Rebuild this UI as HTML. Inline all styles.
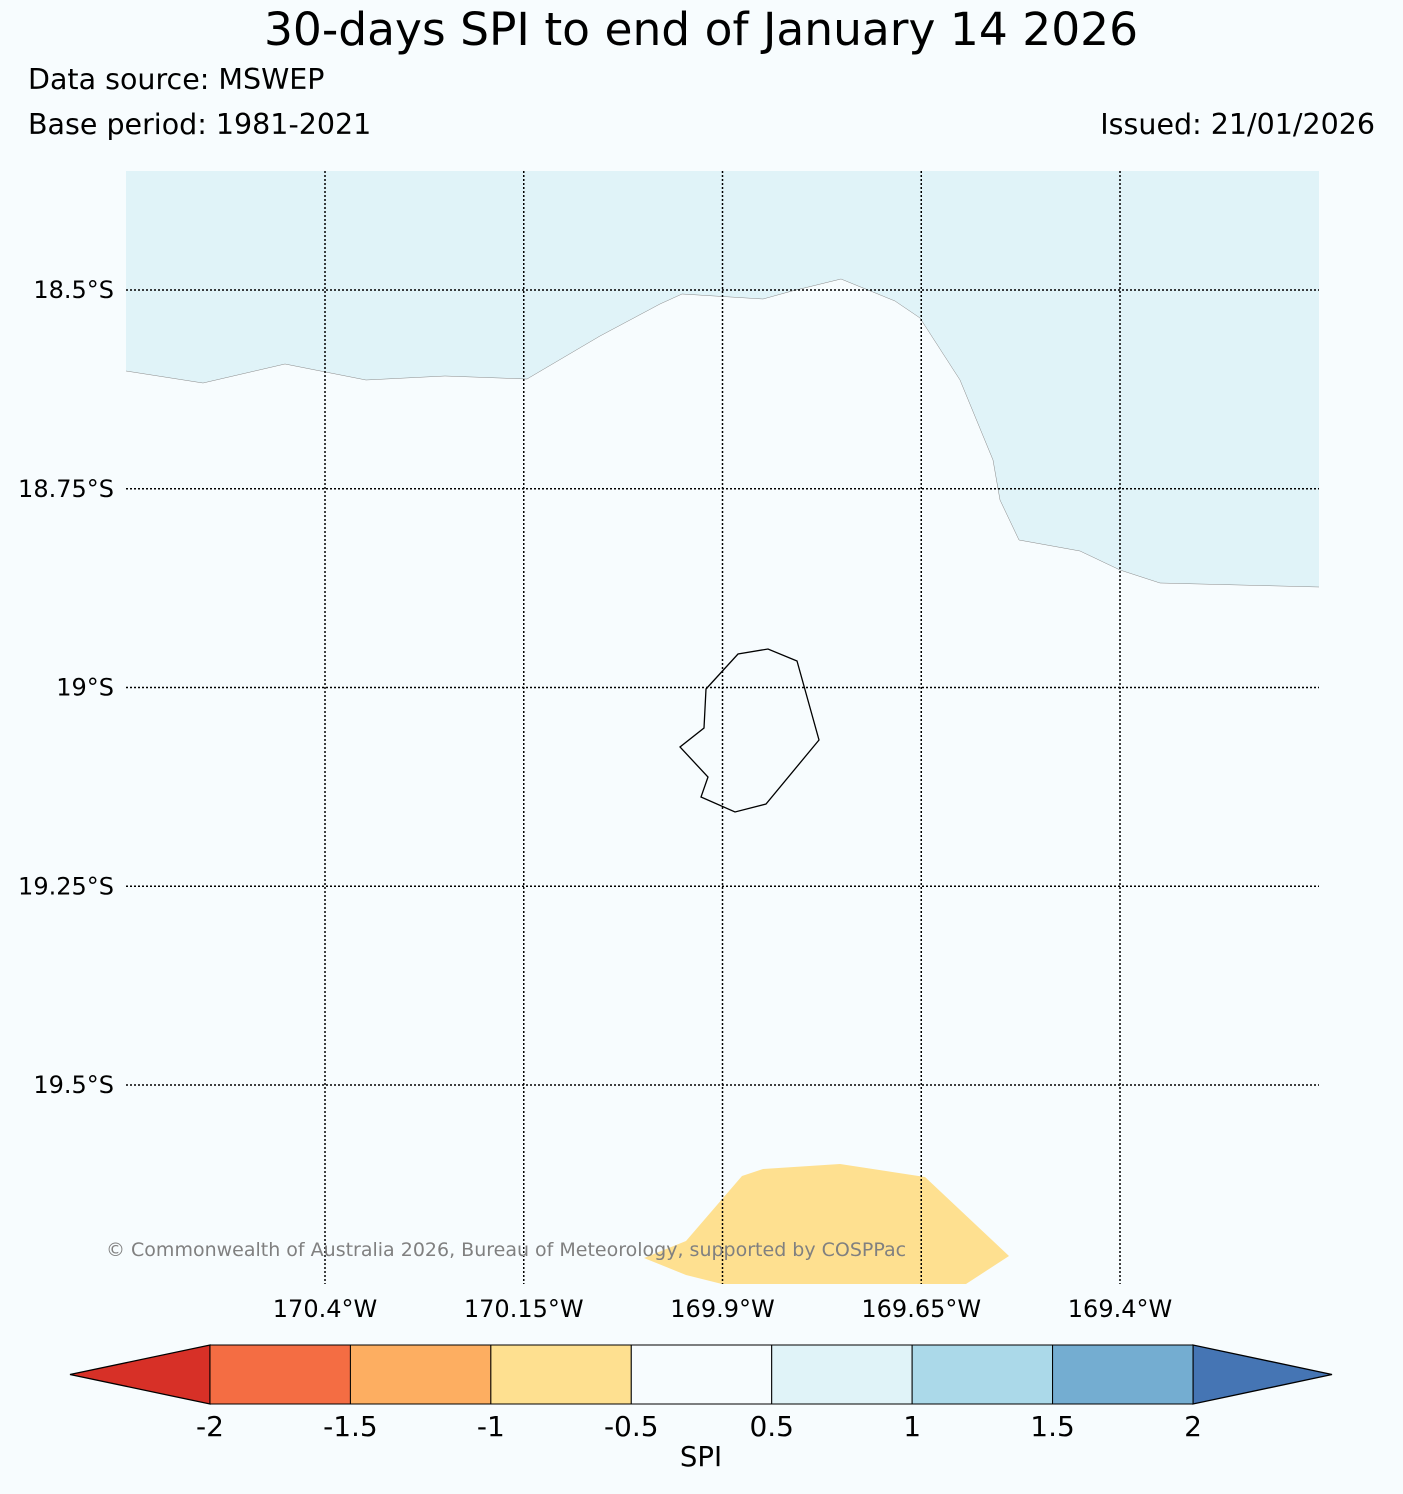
<!DOCTYPE html>
<html><head><meta charset="utf-8"><style>
body{margin:0;background:#f7fcfe;}
svg{display:block;font-family:"DejaVu Sans","Liberation Sans",sans-serif;}
</style></head><body>
<svg width="1403" height="1494" viewBox="0 0 1403 1494">
<rect width="1403" height="1494" fill="#f7fcfe"/>
<text x="701" y="45" font-size="45.5" text-anchor="middle">30-days SPI to end of January 14 2026</text>
<text x="28" y="89" font-size="28.5">Data source: MSWEP</text>
<text x="28" y="134" font-size="28.5">Base period: 1981-2021</text>
<text x="1375" y="134" font-size="28.5" text-anchor="end">Issued: 21/01/2026</text>
<g>
<path d="M126,171 H1319 V587 L1160,583 L1120,570 L1080,551 L1019,540 L1000,500 L993,460 L960,380 L920,318 L895,301 L841,279 L792,291 L763,299 L682,294 L660,304 L600,336 L527,379 L445,376 L366,380 L285,364 L203,383 L126,371 Z" fill="#e0f3f8"/>
<path d="M1319,587 L1160,583 L1120,570 L1080,551 L1019,540 L1000,500 L993,460 L960,380 L920,318 L895,301 L841,279 L792,291 L763,299 L682,294 L660,304 L600,336 L527,379 L445,376 L366,380 L285,364 L203,383 L126,371" fill="none" stroke="#888" stroke-width="0.5"/>
<path d="M644,1258 L686,1241 L742,1176 L763,1169 L840,1164 L925,1177 L1009,1256 L966,1284 H722 L686,1275 Z" fill="#fee090"/>
<path d="M706,689 L738,654 L768,649 L797,661 L819,740 L766,804 L735,812 L701,797 L708,777 L680,747 L704,728 Z" fill="none" stroke="#000" stroke-width="1.3"/>
<g id="grid" stroke="#000" stroke-width="1.5" stroke-dasharray="2,2"></g>
<g id="ylab" font-size="24" text-anchor="end"></g>
<g id="xlab" font-size="24" text-anchor="middle"></g>
<text x="106" y="1256" font-size="19" fill="#808080">© Commonwealth of Australia 2026, Bureau of Meteorology, supported by COSPPac</text>
</g>
<g id="cbar"></g>
<text x="701" y="1466" font-size="27.5" text-anchor="middle">SPI</text>
</svg>
<script>
const latTicks=[18.5,18.75,19,19.25,19.5];
const latLabels=["18.5°S","18.75°S","19°S","19.25°S","19.5°S"];
const lonTicks=[170.4,170.15,169.9,169.65,169.4];
const lonLabels=["170.4°W","170.15°W","169.9°W","169.65°W","169.4°W"];
const cbColors=["#f46d43","#fdae61","#fee090","#f7fcfe","#e0f3f8","#abd9e9","#74add1"];
const cbTicks=["-2","-1.5","-1","-0.5","0.5","1","1.5","2"];
const NS="http://www.w3.org/2000/svg";
const yOf=l=>290+(l-18.5)*795;
const xOf=l=>325+(170.4-l)*795;
function mk(t,a,p){const e=document.createElementNS(NS,t);for(const k in a)e.setAttribute(k,a[k]);p.appendChild(e);return e;}
const g=document.getElementById('grid'),yl=document.getElementById('ylab'),xl=document.getElementById('xlab');
latTicks.forEach((v,i)=>{const y=yOf(v);
 const l=mk('line',{x1:126,x2:1319,y1:y,y2:y},g);
 
 
 const t=mk('text',{x:114,y:y+8},yl);t.textContent=latLabels[i];
 
 });
lonTicks.forEach((v,i)=>{const x=xOf(v);
 const l=mk('line',{x1:x,x2:x,y1:171,y2:1284},g);
 
 
 const t=mk('text',{x:x,y:1317},xl);t.textContent=lonLabels[i];
 
 });
const cb=document.getElementById('cbar');const x0=210,w=(1193-210)/cbColors.length,y0=1345,h=59;
const lt=mk('polygon',{points:`70,1374.5 ${x0},${y0} ${x0},${y0+h}`,fill:'#d73027',stroke:'#000','stroke-width':1.3},cb);


const rt=mk('polygon',{points:`1332,1374.5 1193,${y0} 1193,${y0+h}`,fill:'#4575b4',stroke:'#000','stroke-width':1.3},cb);


cbColors.forEach((c,i)=>{const r=mk('rect',{x:x0+i*w,y:y0,width:w,height:h,fill:c,stroke:'#000','stroke-width':1},cb);
 
 });
cbTicks.forEach((s,i)=>{const t=mk('text',{x:x0+i*w,y:1436,'font-size':28,'text-anchor':'middle'},cb);t.textContent=s;
 
 });
</script>
</body></html>
